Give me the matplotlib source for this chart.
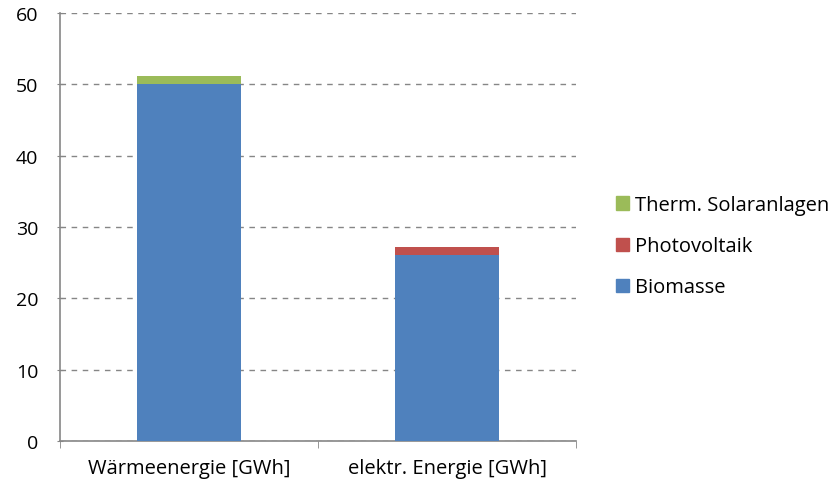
import numpy as np
import matplotlib.pyplot as plt
from matplotlib.patches import Patch

categories = ["Wärmeenergie [GWh]", "elektr. Energie [GWh]"]
biomasse = [50.0, 26.1]
photovoltaik = [0.0, 1.1]
solar = [1.1, 0.0]

c_bio = "#4F81BD"
c_pv = "#C0504D"
c_sol = "#9BBB59"
axis_col = "#868686"

plt.rcParams['font.family'] = ['Open Sans', 'DejaVu Sans']

fig = plt.figure(figsize=(8.3, 4.85), dpi=100)
ax = fig.add_axes([0.0723, 0.0887, 0.6217, 0.8825])

x = np.arange(len(categories))
w = 0.4
ax.bar(x, biomasse, w, color=c_bio, zorder=3)
ax.bar(x, photovoltaik, w, bottom=biomasse, color=c_pv, zorder=3)
bottom2 = [b + p for b, p in zip(biomasse, photovoltaik)]
ax.bar(x, solar, w, bottom=bottom2, color=c_sol, zorder=3)

ax.set_xlim(-0.5, 1.5)
ax.set_ylim(0, 60)
ax.set_yticks(range(0, 61, 10))
ax.yaxis.grid(True, linestyle=(0, (4, 4)), color=axis_col, linewidth=1, zorder=0)

ax.set_xticks(x)
ax.set_xticklabels(categories, fontsize=14.5)
ax.tick_params(axis='x', length=0, pad=12)
ax.set_xticks([-0.5, 0.5, 1.5], minor=True)
ax.tick_params(axis='x', which='minor', length=5, color=axis_col, direction='out')
ax.tick_params(axis='y', labelsize=14, length=5, color=axis_col, direction='inout', pad=13)

for s in ['top', 'right']:
    ax.spines[s].set_visible(False)
for s in ['left', 'bottom']:
    ax.spines[s].set_color(axis_col)
    ax.spines[s].set_linewidth(1.2)

handles = [Patch(color=c_sol, label="Therm. Solaranlagen"),
           Patch(color=c_pv, label="Photovoltaik"),
           Patch(color=c_bio, label="Biomasse")]
fig.legend(handles=handles, loc='center left', bbox_to_anchor=(0.72, 0.49),
           frameon=False, fontsize=14.5, handlelength=0.65, handleheight=0.65,
           handletextpad=0.3, labelspacing=1.05)

fig.savefig("out.png", dpi=100)
